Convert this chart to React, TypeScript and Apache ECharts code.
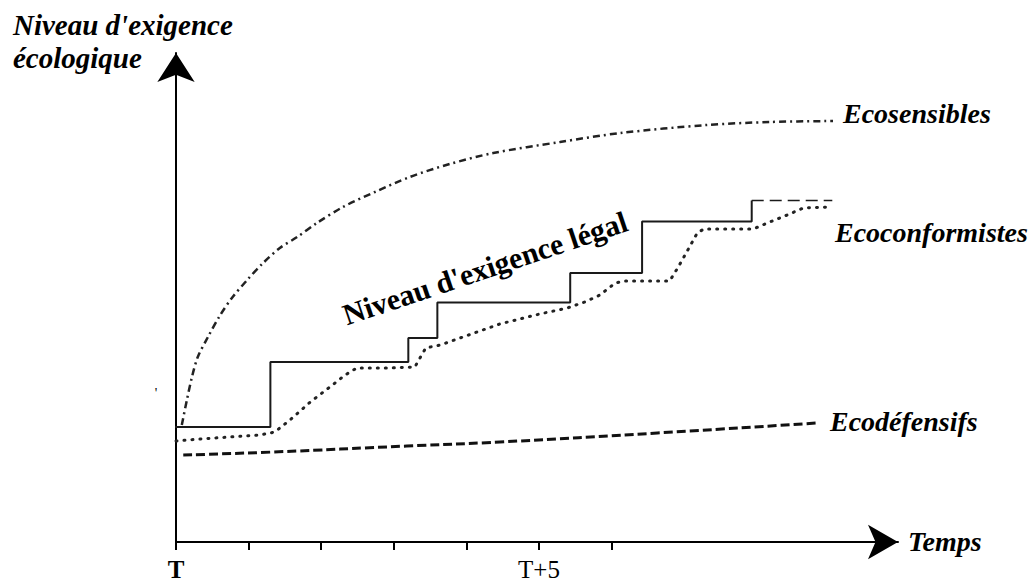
import { useEffect, useRef } from 'react';
import * as echarts from 'echarts';

// x axis: time units (T = 0, T+5 = 5); y axis: ecological requirement level
const tickValues = [0, 1, 2, 3, 4, 5, 6];
const labelValues = [0, 5];
const labelTexts = ['T', 'T+5'];
const labelBold = [true, false];

const ecoSensX = [0.08, 0.15, 0.22, 0.30, 0.44, 0.61, 0.77, 0.98, 1.2, 1.43, 1.67, 1.94, 2.3, 2.74, 3.22, 3.77, 4.37, 5.29, 6.12, 7.31, 8.18, 9.05];
const ecoSensY = [23.4, 28.4, 33, 37, 41, 45.4, 48.8, 52.4, 55.8, 58.8, 61, 63.8, 67, 70, 73, 75.6, 77.8, 80, 81.8, 83.4, 84, 84.2];

const legalX = [-0.12, 1.3, 3.2, 3.6, 5.43, 6.42, 7.93];
const legalY = [23, 36, 40.8, 47.9, 53.8, 64.1, 68.3];
const legalFutureX = [7.93, 9.04];
const legalFutureY = [68.3, 68.3];

const ecoConfX = [0, 0.33, 0.74, 1.16, 1.36, 1.57, 1.85, 2.12, 2.33, 2.49, 2.95, 3.29, 3.36, 3.44, 3.64, 4.46, 5.01, 5.39, 5.63, 5.84, 6.05, 6.18, 6.8, 6.91, 7.05, 7.18, 7.27, 7.95, 8.18, 8.42, 8.64, 9.04];
const ecoConfY = [20.2, 20.6, 21.0, 21.4, 22.0, 24.4, 28.0, 31.0, 33.4, 34.8, 34.8, 35.0, 36.8, 38.8, 39.4, 43.6, 45.6, 46.8, 48.0, 49.4, 51.8, 52.2, 52.2, 54.8, 58.4, 61.8, 62.6, 62.6, 64.0, 65.4, 66.8, 67.0];

const ecoDefX = [0.1, 1.34, 3.18, 4.46, 6.63, 8.83];
const ecoDefY = [17.4, 18.0, 19.2, 20.0, 21.8, 23.8];

const zip = (xs: number[], ys: number[]) => xs.map((x, i) => [x, ys[i]]);

const FONT = 'Liberation Serif';

export default function App() {
  const ref = useRef<HTMLDivElement>(null);
  useEffect(() => {
    const chart = echarts.init(ref.current!, null, { renderer: 'svg' });
    const labelStyle = (x: number, y: number, text: string, size = 28) => ({
      type: 'text',
      x,
      y,
      style: {
        text,
        fill: '#000',
        fontFamily: FONT,
        fontSize: size,
        fontWeight: 'bold',
        fontStyle: 'italic',
        textAlign: 'left',
        textVerticalAlign: 'middle',
      },
    });
    chart.setOption({
      animation: false,
      backgroundColor: '#fff',
      grid: { left: 176, right: 136, top: 53, bottom: 42, outerBoundsMode: 'none', containLabel: false },
      xAxis: {
        type: 'value',
        min: 0,
        max: 9.945,
        interval: 1,
        axisLine: {
          show: true,
          onZero: false,
          symbol: ['none', 'arrow'],
          symbolSize: [26, 30],
          lineStyle: { color: '#000', width: 2 },
        },
        axisTick: {
          show: true,
          length: 8,
          customValues: tickValues,
          lineStyle: { color: '#000', width: 2 },
        },
        axisLabel: {
          show: true,
          customValues: labelValues,
          margin: 15,
          color: '#000',
          fontFamily: FONT,
          fontSize: 25,
          formatter: (v: number) => {
            const i = labelValues.indexOf(v);
            if (i < 0) return '';
            return labelBold[i] ? `{b|${labelTexts[i]}}` : `{r|${labelTexts[i]}}`;
          },
          rich: {
            b: { fontFamily: FONT, fontSize: 25, fontWeight: 'bold', color: '#000' },
            r: { fontFamily: FONT, fontSize: 25, fontWeight: 'normal', color: '#000' },
          },
        },
        splitLine: { show: false },
      },
      yAxis: {
        type: 'value',
        min: 0,
        max: 97.8,
        axisLine: {
          show: true,
          onZero: false,
          symbol: ['none', 'arrow'],
          symbolSize: [28, 29],
          lineStyle: { color: '#000', width: 2 },
        },
        axisTick: { show: false },
        axisLabel: { show: false },
        splitLine: { show: false },
      },
      series: [
        {
          name: 'Ecosensibles',
          type: 'line',
          smooth: 0.3,
          showSymbol: false,
          data: zip(ecoSensX, ecoSensY),
          lineStyle: { color: '#222', width: 2.5, type: [7, 4, 2, 4] },
        },
        {
          name: "Niveau d'exigence légal",
          type: 'line',
          step: 'end',
          clip: false,
          showSymbol: false,
          data: zip(legalX, legalY),
          lineStyle: { color: '#1a1a1a', width: 2 },
        },
        {
          name: 'Légal (futur)',
          type: 'line',
          showSymbol: false,
          data: zip(legalFutureX, legalFutureY),
          lineStyle: { color: '#1a1a1a', width: 1.5, type: [12, 6] },
        },
        {
          name: 'Ecoconformistes',
          type: 'line',
          showSymbol: false,
          data: zip(ecoConfX, ecoConfY),
          lineStyle: { color: '#222', width: 3, type: [1, 7], cap: 'round' },
        },
        {
          name: 'Ecodéfensifs',
          type: 'line',
          smooth: true,
          showSymbol: false,
          data: zip(ecoDefX, ecoDefY),
          lineStyle: { color: '#111', width: 3, type: [9, 4] },
        },
      ],
      graphic: [
        labelStyle(13, 25, "Niveau d'exigence", 29),
        labelStyle(13, 58, 'écologique', 29),
        labelStyle(843, 113, 'Ecosensibles'),
        labelStyle(835, 232, 'Ecoconformistes'),
        labelStyle(830, 421, 'Ecodéfensifs'),
        labelStyle(908, 541, 'Temps'),
        {
          type: 'text',
          x: 485,
          y: 268,
          rotation: 0.325,
          style: {
            text: "Niveau d'exigence légal",
            fill: '#000',
            fontFamily: FONT,
            fontSize: 30,
            fontWeight: 'bold',
            textAlign: 'center',
            textVerticalAlign: 'middle',
          },
        },
        {
          type: 'text',
          x: 156,
          y: 393,
          style: { text: "'", fill: '#000', fontFamily: FONT, fontSize: 14, textAlign: 'center', textVerticalAlign: 'middle' },
        },
      ],
    });
    return () => chart.dispose();
  }, []);
  return (
    <div
      ref={ref}
      style={{ position: 'fixed', left: 0, top: 0, width: 1034, height: 584, background: '#fff' }}
    />
  );
}
